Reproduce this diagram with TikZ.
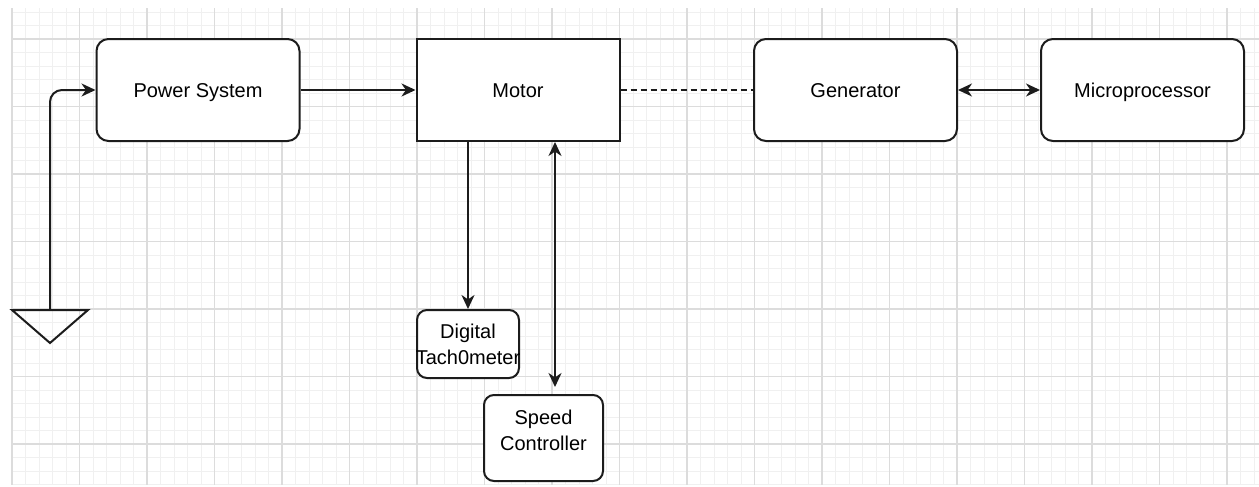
\documentclass[tikz,border=0pt]{standalone}
\usepackage{fontspec}
\setmainfont{Liberation Sans}
\usepackage{tikz}
\usetikzlibrary{calc,positioning,arrows.meta}

\definecolor{gridminor}{HTML}{F0F0F0}
\definecolor{gridmajor}{HTML}{DCDCDC}
\definecolor{ink}{HTML}{1C1C1C}

\begin{document}
\begin{tikzpicture}[
    x=0.5pt, y=-0.5pt,
    block/.style={draw=ink, line width=1pt, rounded corners=6pt, fill=white, align=center,
                  minimum width=101.5pt, minimum height=51pt, font=\fontsize{10}{13}\selectfont},
    oneline/.style={text height=0.72em, text depth=0pt},
    squareblock/.style={block, rounded corners=0pt},
    smallblock/.style={block, rounded corners=5pt},
    link/.style={draw=ink, line width=1pt, -{Stealth[length=7pt,width=6.5pt,inset=2.2pt]}},
    biglink/.style={link, {Stealth[length=7pt,width=6.5pt,inset=2.2pt]}-{Stealth[length=7pt,width=6.5pt,inset=2.2pt]}},
    softlink/.style={draw=ink, line width=0.8pt, dash pattern=on 3pt off 2pt},
    minorline/.style={draw=gridminor, line width=0.5pt},
    majorline/.style={draw=gridmajor, line width=0.6pt}
]
    \useasboundingbox (0,0) rectangle (1259,487);
    \fill[white] (0,0) rectangle (1259,487);

    % Grid paper
    \foreach \gx in {0,...,92}
        \draw[minorline] ({12+13.5*\gx},8) -- ({12+13.5*\gx},485);
    \foreach \gy in {0,...,35}
        \draw[minorline] (12,{12+13.5*\gy}) -- (1259,{12+13.5*\gy});
    \foreach \gx in {0,...,18}
        \draw[majorline] ({12+67.5*\gx},8) -- ({12+67.5*\gx},485);
    \foreach \gy in {0,...,6}
        \draw[majorline] (12,{39+67.5*\gy}) -- (1259,{39+67.5*\gy});

    % Main chain
    \node[block, oneline] (power) at (198,90) {Power System};
    \node[squareblock, oneline] (motor) at (518,90) {Motor};
    \node[block, oneline] (gen) at (855.5,90) {Generator};
    \node[block, oneline] (micro) at (1142.5,90) {Microprocessor};

    % Boxes under the motor
    \node[smallblock, minimum width=51pt, minimum height=34pt, inner xsep=-1pt] (tacho) at (468,344) {Digital\\Tach0meter};
    \node[smallblock, minimum width=59.5pt, minimum height=43pt, text depth=8pt] (speed) at (543.5,438) {Speed\\Controller};

    % Ground
    \coordinate (gnd) at (50,310);
    \draw[draw=ink, line width=1pt] (12,310) -- (88,310) -- (50,343) -- cycle;
    \draw[link, rounded corners=6pt] (gnd) |- (power.west);

    % Connections
    \draw[link] (power) -- (motor);
    \draw[softlink] (motor) -- (gen);
    \draw[biglink] (gen) -- (micro);
    \draw[link] (motor.south -| tacho.north) -- (tacho.north);
    \coordinate (speedtop) at (555,387);
    \draw[biglink] (motor.south -| speedtop) -- (speedtop);
\end{tikzpicture}
\end{document}
